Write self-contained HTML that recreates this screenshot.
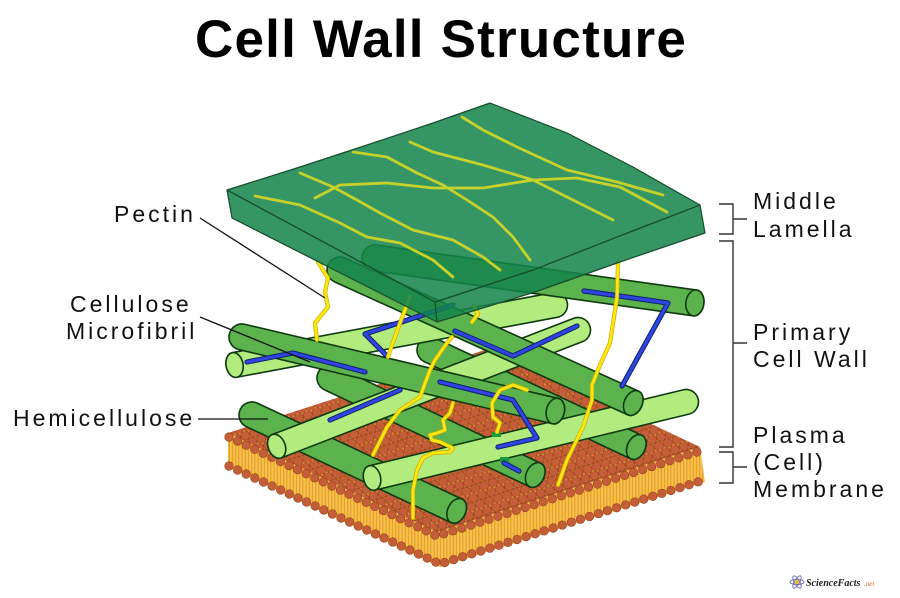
<!DOCTYPE html>
<html><head><meta charset="utf-8"><style>
html,body{margin:0;padding:0;background:#fff;}
svg{display:block;}
.dk path,.dk ellipse{fill:#5cb34e;stroke:#0f3a10;stroke-width:1.6;}
.lt path,.lt ellipse{fill:#b2ec7e;stroke:#0f3a10;stroke-width:1.6;}
.lbl{font-family:"Liberation Sans",Arial,sans-serif;font-size:23px;letter-spacing:3px;fill:#111;}
.bo{fill:none;stroke:#10206a;stroke-width:5.2;stroke-linejoin:round;stroke-linecap:round;}
.bl{fill:none;stroke:#2f45e0;stroke-width:3.2;stroke-linejoin:round;stroke-linecap:round;}
.yo{fill:none;stroke:#c9ae00;stroke-width:4.2;stroke-linejoin:round;stroke-linecap:round;}
.yl{fill:none;stroke:#fbe614;stroke-width:2.8;stroke-linejoin:round;stroke-linecap:round;}
.sg{fill:none;stroke:#c6d22c;stroke-width:2.8;stroke-linejoin:round;stroke-linecap:round;}
</style></head><body>
<svg width="900" height="598" viewBox="0 0 900 598" xmlns="http://www.w3.org/2000/svg">
<defs>
<pattern id="heads" width="9.4" height="16.2" patternUnits="userSpaceOnUse" patternTransform="rotate(-18)">
<rect width="9.4" height="16.2" fill="#d98a38"/>
<circle cx="4.7" cy="4.05" r="4.5" fill="#c45e38" stroke="#96401f" stroke-width="0.6"/>
<circle cx="0" cy="12.15" r="4.5" fill="#c45e38" stroke="#96401f" stroke-width="0.6"/>
<circle cx="9.4" cy="12.15" r="4.5" fill="#c45e38" stroke="#96401f" stroke-width="0.6"/>
</pattern>
<pattern id="tails" width="3.2" height="10" patternUnits="userSpaceOnUse">
<rect width="3.2" height="10" fill="#f8c24a"/><rect x="1.6" width="0.9" height="10" fill="#de9326"/>
</pattern>
<path id="y1" d="M318,262 L328,278 L325,292 L328,307 L315,323 L317,340"/>
<path id="y2" d="M410,297 L405,310 L400,323 L392,345 L388,357"/>
<path id="y3" d="M452,337 L447,343 L435,360 L430,370 L420,397 L400,410 L387,427 L373,455"/>
<path id="y4" d="M453,403 L450,413 L443,420 L445,430 L437,433 L430,435 L432,440 L440,442 L453,448 L450,452 L433,453 L423,458 L417,470 L413,490 L413,518"/>
<path id="y5" d="M527,390 L513,385 L500,390 L492,403 L493,417 L500,423 L497,432"/>
<path id="y6" d="M618,262 L617,297 L612,330 L610,343 L600,365 L592,385 L592,400 L583,427 L567,460 L558,485"/>
<path id="y7" d="M474,306 L478,314 L472,322"/>
</defs>

<text x="195" y="57" font-family="Liberation Sans,Arial,sans-serif" font-size="53" font-weight="bold" letter-spacing="1.2" fill="#000">Cell Wall Structure</text>

<text class="lbl" x="114" y="222">Pectin</text>
<text class="lbl" x="70" y="312">Cellulose</text>
<text class="lbl" x="66" y="339">Microfibril</text>
<text class="lbl" x="13" y="426">Hemicellulose</text>

<text class="lbl" x="753" y="209">Middle</text>
<text class="lbl" x="753" y="237">Lamella</text>
<text class="lbl" x="753" y="340">Primary</text>
<text class="lbl" x="753" y="367">Cell Wall</text>
<text class="lbl" x="753" y="443">Plasma</text>
<text class="lbl" x="753" y="470">(Cell)</text>
<text class="lbl" x="753" y="497">Membrane</text>

<g fill="none" stroke="#333" stroke-width="1.4">
<path d="M719,204H733V234H719M733,219H747"/>
<path d="M719,241H733V447H719M733,343H747"/>
<path d="M719,452H733V483H719M733,467H747"/>
</g>

<polygon points="228,433 437,532 440,567 228,467" fill="url(#tails)"/>
<polygon points="437,532 700,447 705,482 440,567" fill="url(#tails)"/>
<polygon points="228,433 491,348 700,447 437,532" fill="url(#heads)"/>
<g fill="none" stroke-linecap="round" stroke-dasharray="0 9.5">
<path d="M229,437 L437,536 L700,451" stroke="#96401f" stroke-width="9.2"/>
<path d="M229,437 L437,536 L700,451" stroke="#c45e38" stroke-width="8"/>
<path d="M229,466 L440,564 L704,480" stroke="#96401f" stroke-width="9.2"/>
<path d="M229,466 L440,564 L704,480" stroke="#c45e38" stroke-width="8"/>
</g>

<g class="dk" transform="translate(430,350) rotate(25.2)"><path d="M0,-13H228A9,13 0 0 1 228,13H0A13,13 0 0 1 0,-13Z"/><ellipse cx="228" rx="9" ry="13"/></g>
<g class="dk" transform="translate(330,378) rotate(25.3)"><path d="M0,-13H227A9,13 0 0 1 227,13H0A13,13 0 0 1 0,-13Z"/><ellipse cx="227" rx="9" ry="13"/></g>
<g class="dk" transform="translate(252,415) rotate(25.1)"><path d="M0,-13H226A9,13 0 0 1 226,13H0A13,13 0 0 1 0,-13Z"/><ellipse cx="226" rx="9" ry="13"/></g>

<g class="lt" transform="translate(555,305) rotate(169.4)"><path d="M0,-12.5H326A8.5,12.5 0 0 1 326,12.5H0A12.5,12.5 0 0 1 0,-12.5Z"/><ellipse cx="326" rx="8.5" ry="12.5"/></g>
<g class="lt" transform="translate(578,330) rotate(158.9)"><path d="M0,-12.5H323A8.5,12.5 0 0 1 323,12.5H0A12.5,12.5 0 0 1 0,-12.5Z"/><ellipse cx="323" rx="8.5" ry="12.5"/></g>
<g class="lt" transform="translate(686,402) rotate(166.4)"><path d="M0,-12.5H323A8.5,12.5 0 0 1 323,12.5H0A12.5,12.5 0 0 1 0,-12.5Z"/><ellipse cx="323" rx="8.5" ry="12.5"/></g>

<g class="dk" transform="translate(242,337) rotate(13.3)"><path d="M0,-13H322A9,13 0 0 1 322,13H0A13,13 0 0 1 0,-13Z"/><ellipse cx="322" rx="9" ry="13"/></g>
<g class="dk" transform="translate(340,270) rotate(24.4)"><path d="M0,-13H322A9,13 0 0 1 322,13H0A13,13 0 0 1 0,-13Z"/><ellipse cx="322" rx="9" ry="13"/></g>
<g class="dk" transform="translate(375,258) rotate(8)"><path d="M0,-13H323A9,13 0 0 1 323,13H0A13,13 0 0 1 0,-13Z"/><ellipse cx="323" rx="9" ry="13"/></g>

<rect x="492" y="432" width="9" height="5" fill="#1f9a3a"/>
<rect x="500" y="457" width="9" height="5" fill="#1f9a3a"/>

<g>
<path class="bo" d="M584,291 L668,303 L622,386"/>
<path class="bl" d="M584,291 L668,303 L622,386"/>
<path class="bo" d="M453,305 L365,334 L387,356"/>
<path class="bl" d="M453,305 L365,334 L387,356"/>
<path class="bo" d="M455,331 L513,356 L577,326"/>
<path class="bl" d="M455,331 L513,356 L577,326"/>
<path class="bo" d="M247,362 L293,353 L365,372"/>
<path class="bl" d="M247,362 L293,353 L365,372"/>
<path class="bo" d="M330,420 L400,390"/>
<path class="bl" d="M330,420 L400,390"/>
<path class="bo" d="M440,382 L513,400 L537,438 L498,447"/>
<path class="bl" d="M440,382 L513,400 L537,438 L498,447"/>
<path class="bo" d="M504,463 L519,471"/>
<path class="bl" d="M504,463 L519,471"/>
</g>

<g>
<use href="#y1" class="yo"/><use href="#y1" class="yl"/>
<use href="#y2" class="yo"/><use href="#y2" class="yl"/>
<use href="#y3" class="yo"/><use href="#y3" class="yl"/>
<use href="#y4" class="yo"/><use href="#y4" class="yl"/>
<use href="#y5" class="yo"/><use href="#y5" class="yl"/>
<use href="#y6" class="yo"/><use href="#y6" class="yl"/>
<use href="#y7" class="yo"/><use href="#y7" class="yl"/>
</g>

<g fill="rgba(20,131,74,0.86)" stroke="#164d2c" stroke-width="1.2" stroke-linejoin="round">
<path d="M227,190 L435,302 L437,322 L232,218 Z"/>
<path d="M435,302 L533,270 L617,237 L700,205 L705,233 L620,262 L535,292 L437,322 Z"/>
<path d="M227,190 L300,167 L367,145 L433,123 L490,103 L567,133 L633,167 L700,205 L617,237 L533,270 L435,302 Z"/>
</g>
<g>
<path class="sg" d="M255,196 L300,205 L340,223 L367,237 L400,243 L433,260 L453,277"/>
<path class="sg" d="M300,173 L333,187 L357,200 L380,213 L413,230 L453,240 L483,257 L500,270"/>
<path class="sg" d="M315,198 L340,185 L387,183 L433,188 L483,188 L533,180 L577,178 L620,187 L667,212"/>
<path class="sg" d="M353,152 L387,157 L417,173 L443,185 L467,200 L493,217 L513,237 L530,260"/>
<path class="sg" d="M410,142 L433,152 L483,165 L533,180 L573,200 L613,220"/>
<path class="sg" d="M462,117 L483,130 L517,147 L567,170 L617,182 L663,195"/>
</g>

<g stroke="#111" stroke-width="1.3" fill="none">
<path d="M200,218 L325,298"/>
<path d="M200,317 L310,362"/>
<path d="M198,419 L268,419"/>
</g>

<g transform="translate(797,582)">
<ellipse rx="7" ry="2.6" fill="none" stroke="#6a6ab0" stroke-width="0.9"/>
<ellipse rx="7" ry="2.6" fill="none" stroke="#6a6ab0" stroke-width="0.9" transform="rotate(60)"/>
<ellipse rx="7" ry="2.6" fill="none" stroke="#6a6ab0" stroke-width="0.9" transform="rotate(-60)"/>
<circle r="2" fill="#e8c020"/>
</g>
<text x="806" y="586" font-family="Liberation Serif,serif" font-style="italic" font-weight="bold" font-size="10" fill="#222">ScienceFacts</text>
<text x="864" y="586" font-family="Liberation Serif,serif" font-style="italic" font-size="7" fill="#d0602a">.net</text>
</svg>
</body></html>
